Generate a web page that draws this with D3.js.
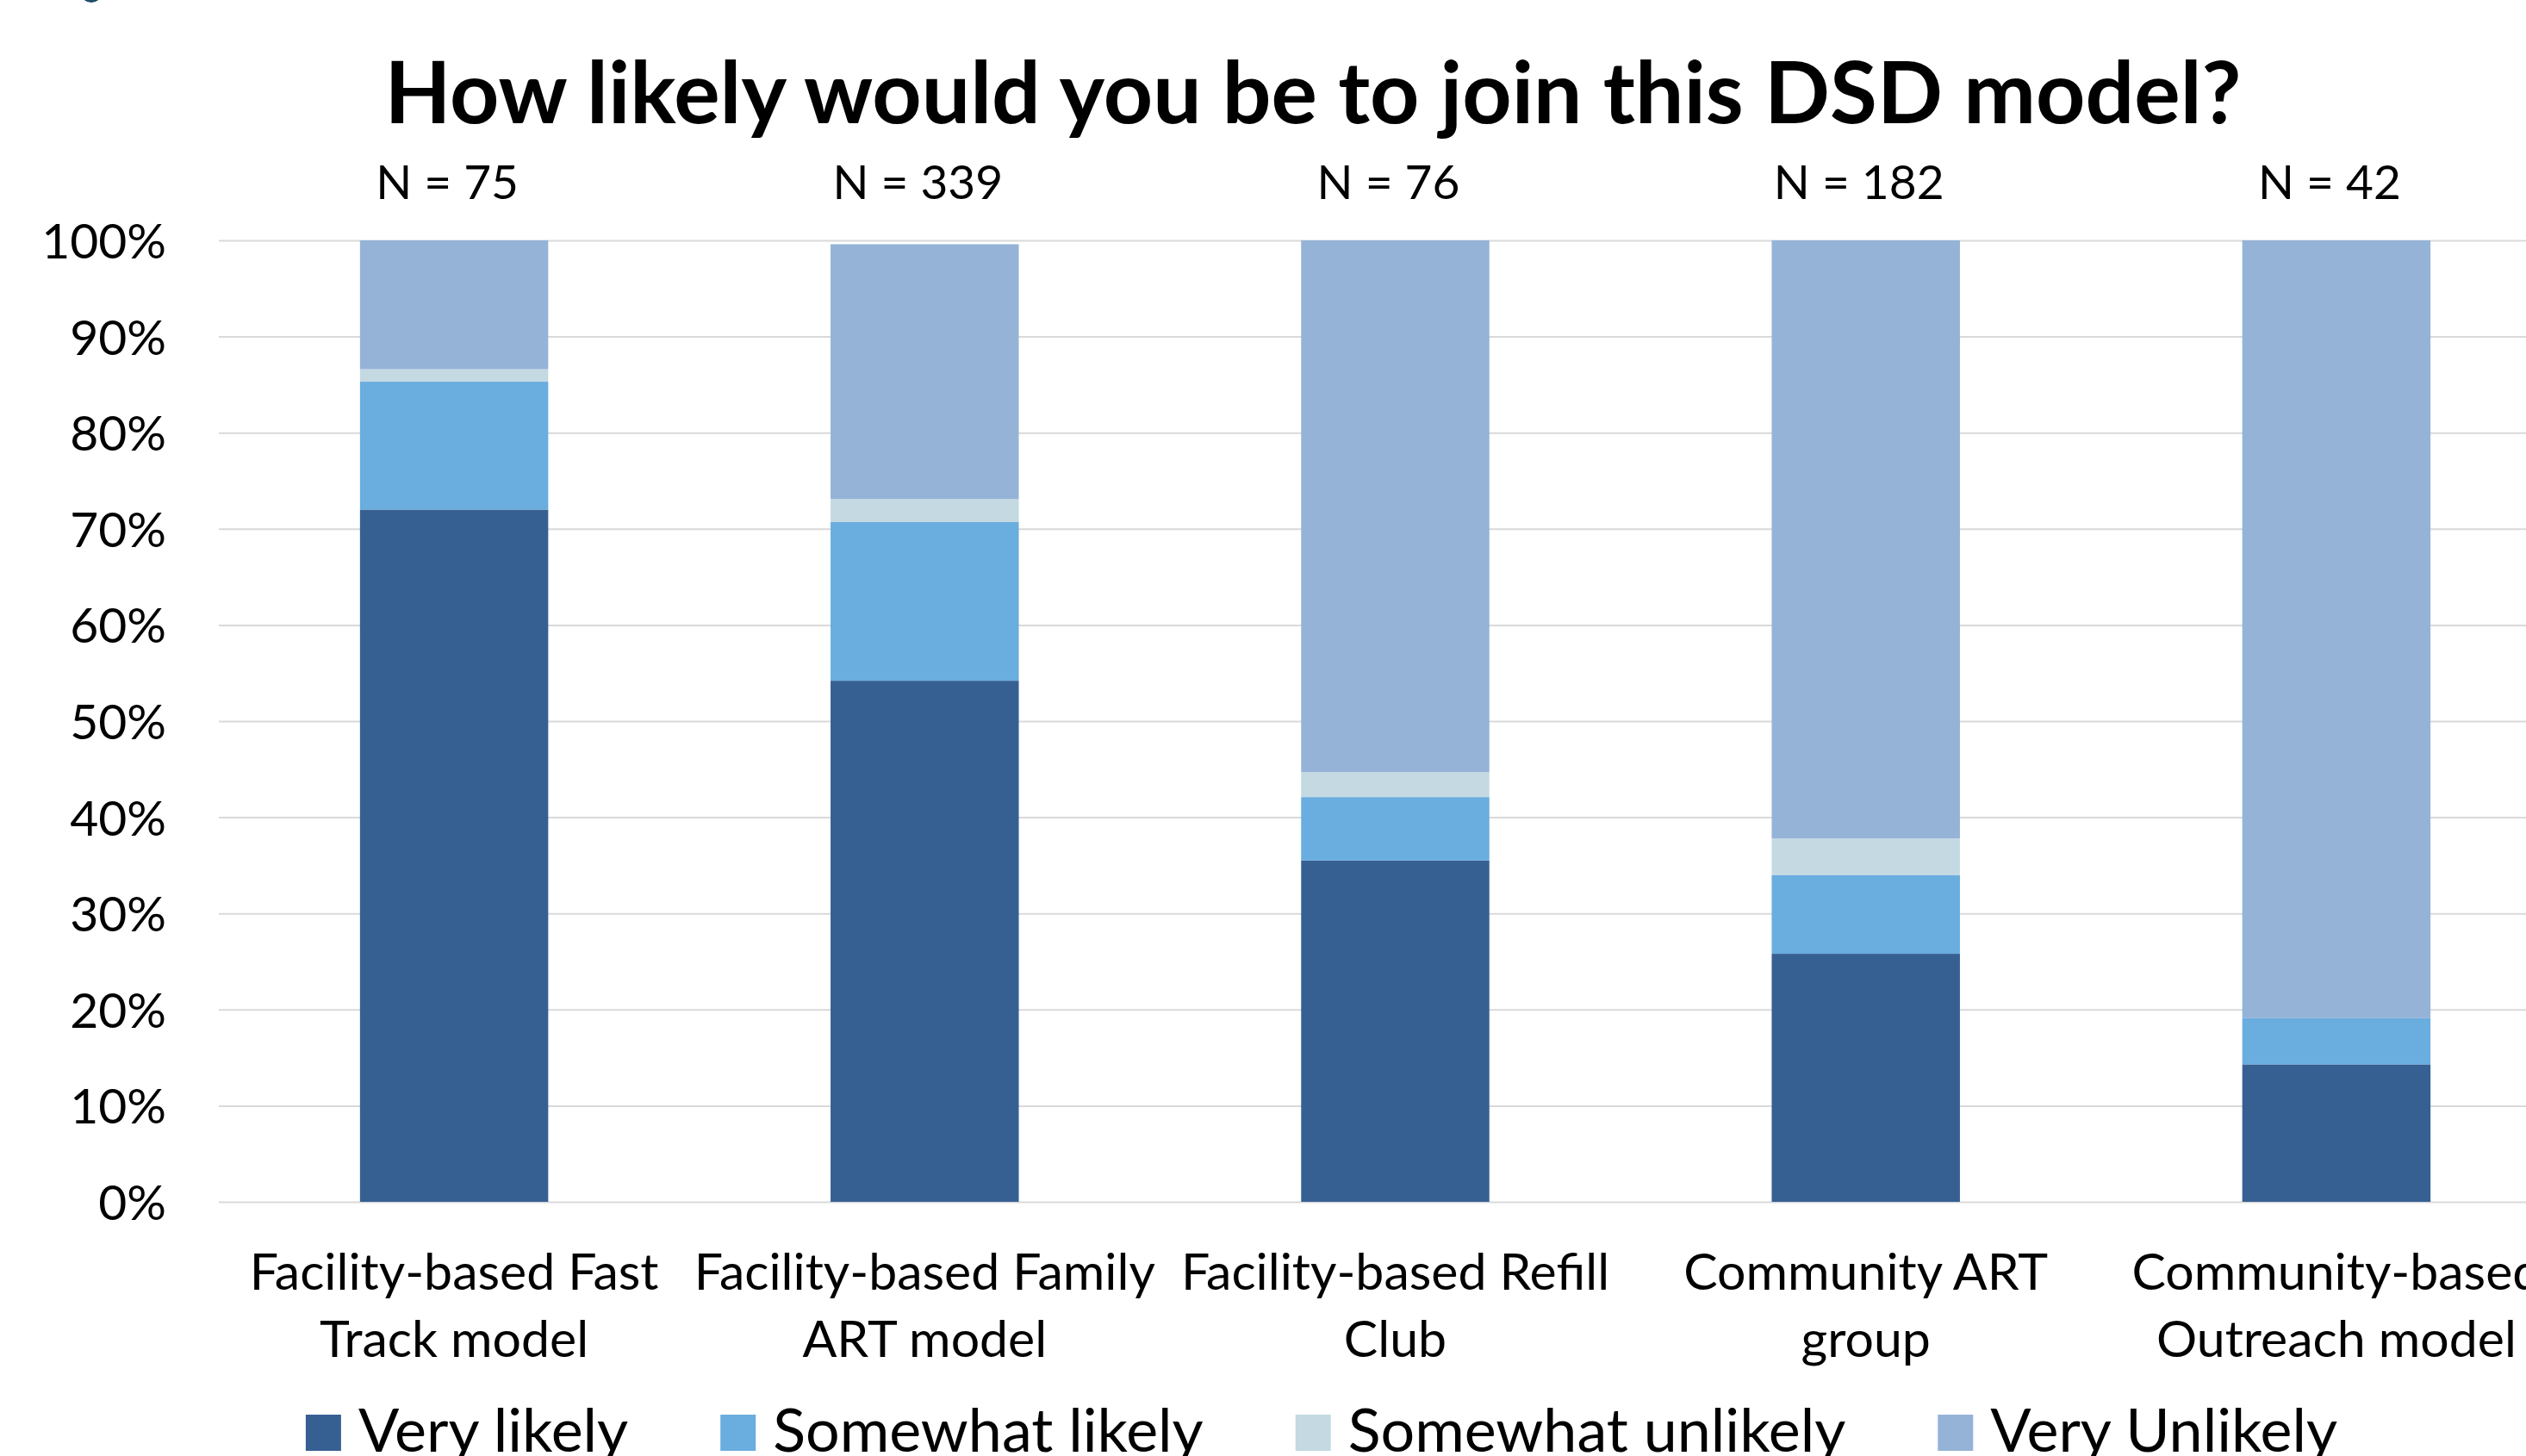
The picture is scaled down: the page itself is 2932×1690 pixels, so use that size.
<!DOCTYPE html>
<html>
<head>
<meta charset="utf-8">
<script src="https://cdn.jsdelivr.net/npm/d3@7"></script>
<style>
  html, body { margin: 0; padding: 0; background: #ffffff; overflow: hidden; }
  svg { display: block; }
  text { font-family: Lato, "Open Sans", sans-serif; fill: #000; }
</style>
</head>
<body>
<svg id="chart" width="2932" height="1690"></svg>
<script>
// ---- data ----
const title = "How likely would you be to join this DSD model?";
const categories = [
  "Facility-based Fast Track model",
  "Facility-based Family ART model",
  "Facility-based Refill Club",
  "Community ART group",
  "Community-based Outreach model"
];
const categoryLines = [
  ["Facility-based Fast", "Track model"],
  ["Facility-based Family", "ART model"],
  ["Facility-based Refill", "Club"],
  ["Community ART", "group"],
  ["Community-based", "Outreach model"]
];
const sampleSizes = [75, 339, 76, 182, 42];
const seriesNames = ["Very likely", "Somewhat likely", "Somewhat unlikely", "Very Unlikely"];
const veryLikely       = [72.0, 54.2, 35.5, 25.8, 14.3];
const somewhatLikely   = [13.3, 16.5, 6.6, 8.2, 4.8];
const somewhatUnlikely = [1.3, 2.4, 2.6, 3.8, 0.0];
const veryUnlikely     = [13.4, 26.5, 55.3, 62.2, 80.9];
const yTicks = [0, 0.1, 0.2, 0.3, 0.4, 0.5, 0.6, 0.7, 0.8, 0.9, 1.0];
const colors = ["#376092", "#6AADDF", "#C4D9E2", "#95B3D7"];

// ---- build table ----
const seriesValues = [veryLikely, somewhatLikely, somewhatUnlikely, veryUnlikely];
const table = categories.map((c, i) => {
  const row = { category: c };
  seriesNames.forEach((s, j) => { row[s] = seriesValues[j][i] / 100; });
  return row;
});
const stacked = d3.stack().keys(seriesNames)(table);

// ---- layout ----
const svg = d3.select("#chart");
const W = 2932, H = 1690;
const plotLeft = 254, plotRight = 2985, plotTop = 279, plotBottom = 1395;

const x = d3.scaleBand().domain(categories).range([plotLeft, plotRight])
  .paddingInner(0.6).paddingOuter(0.3);
const y = d3.scaleLinear().domain([0, 1]).range([plotBottom, plotTop]);
const color = d3.scaleOrdinal().domain(seriesNames).range(colors);

// gridlines
const grid = svg.append("g").attr("transform", `translate(${plotLeft},0)`)
  .call(d3.axisLeft(y).tickValues(yTicks).tickSize(-(W - plotLeft)).tickFormat(""));
grid.select(".domain").remove();
grid.selectAll("line").attr("stroke", "#D9D9D9").attr("stroke-width", 2);

// y labels
const yAxis = svg.append("g").attr("transform", `translate(193,0)`)
  .call(d3.axisLeft(y).tickValues(yTicks).tickSize(0).tickPadding(0).tickFormat(d3.format(".0%")));
yAxis.select(".domain").remove();
yAxis.selectAll("text")
  .attr("font-size", 57).attr("fill", "#000")
  .style("font-family", "Lato, sans-serif")
  .attr("dy", "0.36em");

// bars
svg.append("g").selectAll("g").data(stacked).join("g")
  .attr("fill", d => color(d.key))
  .selectAll("rect").data(d => d).join("rect")
  .attr("x", d => x(d.data.category))
  .attr("width", x.bandwidth())
  .attr("y", d => y(d[1]))
  .attr("height", d => Math.max(0, y(d[0]) - y(d[1])));

// N labels
svg.append("g").selectAll("text").data(categories).join("text")
  .attr("x", (c) => x(c) + x.bandwidth() / 2 - 8)
  .attr("y", 231)
  .attr("text-anchor", "middle")
  .attr("font-size", 55)
  .text((c, i) => `N = ${sampleSizes[i]}`);

// category labels
const xl = svg.append("g").selectAll("text").data(categories).join("text")
  .attr("text-anchor", "middle")
  .attr("font-size", 59)
  .attr("transform", c => `translate(${x(c) + x.bandwidth() / 2},0)`);
xl.selectAll("tspan").data((c, i) => categoryLines[i]).join("tspan")
  .attr("x", 0)
  .attr("y", (d, k) => 1497 + k * 78)
  .text(d => d);

// title
svg.append("text")
  .attr("x", 1524).attr("y", 143)
  .attr("text-anchor", "middle")
  .attr("font-size", 100)
  .attr("font-weight", "bold")
  .text(title);

// partial logo fragment at top-left
svg.append("ellipse").attr("cx", 106).attr("cy", -8).attr("rx", 12).attr("ry", 11)
  .attr("fill", "#1F4E6B");

// legend
const legend = svg.append("g");
const items = legend.selectAll("g").data(seriesNames).join("g");
items.append("rect").attr("width", 41).attr("height", 42).attr("y", 1642)
  .attr("fill", d => color(d));
items.append("text").attr("x", 61).attr("y", 1685).attr("font-size", 70).text(d => d);
let cursor = 0;
const offsets = [];
items.each(function () {
  const t = d3.select(this).select("text").node().getComputedTextLength();
  offsets.push(cursor);
  cursor += 61 + t + 107;
});
const totalW = cursor - 107;
const start = 1534 - totalW / 2;
items.attr("transform", (d, i) => `translate(${start + offsets[i]},0)`);
</script>
</body>
</html>
